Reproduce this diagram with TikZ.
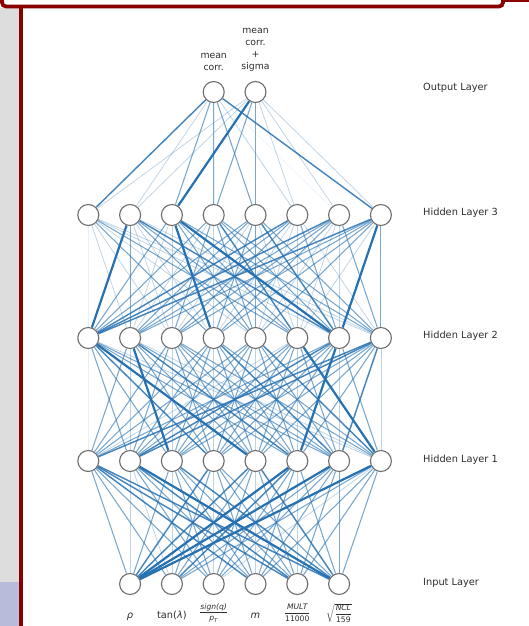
\documentclass[tikz,border=0pt]{standalone}
\usepackage{fontspec}
\setmainfont{DejaVu Sans}
\usepackage{amsmath}
\usetikzlibrary{backgrounds}
\definecolor{nnblue}{RGB}{38,113,178}
\definecolor{framered}{RGB}{136,0,0}
\definecolor{sidegray}{RGB}{221,221,221}
\definecolor{sideblue}{RGB}{183,188,218}
\definecolor{ringgray}{RGB}{110,110,110}
\definecolor{labtext}{RGB}{45,45,45}

\begin{document}
\begin{tikzpicture}[x=1pt,y=-1pt,
  neuron/.style={circle, draw=ringgray, line width=1.1pt, fill=white,
                 minimum size=21pt, inner sep=0pt},
  layerlab/.style={anchor=west, font=\fontsize{9.8}{12}\selectfont, text=labtext, inner sep=0pt},
  outlab/.style={align=center, font=\fontsize{9.3}{12}\selectfont, text=labtext, inner sep=0pt},
  inlab/.style={anchor=base, font=\fontsize{9.8}{12}\selectfont, text=labtext, inner sep=0pt},
  fraclab/.style={font=\fontsize{7.6}{8.5}\selectfont, text=labtext, inner sep=0pt},
  w0/.style={draw=nnblue, draw opacity=0.10, line width=0.5pt},
  w1/.style={draw=nnblue, draw opacity=0.30, line width=0.75pt},
  w2/.style={draw=nnblue, draw opacity=0.62, line width=1.05pt},
  w3/.style={draw=nnblue, draw opacity=0.85, line width=1.45pt},
  w4/.style={draw=nnblue, draw opacity=1.00, line width=2.2pt},
  frameline/.style={draw=framered, line width=3.8pt}
]
\useasboundingbox (0,0) rectangle (529,626);

% ---- page furniture: side strips and frame ----
\fill[sidegray] (0,8) rectangle (19,582);
\fill[sideblue] (0,582) rectangle (19,626);
\draw[frameline, rounded corners=4pt] (2,-6) -- (2,6.5) -- (503,6.5) -- (503,-6);
\draw[frameline] (20.6,6.5) -- (20.6,630);
\draw[draw=framered, line width=2.6pt] (503,1.2) -- (532,1.2);

% ---- neurons ----
\node[neuron] (out-1) at (213.7,92) {};
\node[neuron] (out-2) at (255.5,92) {};
\foreach \i in {1,...,8} {
  \node[neuron] (h3-\i) at ({88.3+41.8*(\i-1)},215) {};
  \node[neuron] (h2-\i) at ({88.3+41.8*(\i-1)},338) {};
  \node[neuron] (h1-\i) at ({88.3+41.8*(\i-1)},461) {};
}
\foreach \i in {1,...,6}
  \node[neuron] (in-\i) at ({130.1+41.8*(\i-1)},584) {};

% ---- layer names ----
\node[layerlab] (name-out) at (423,88) {Output Layer};
\node[layerlab] (name-h3) at (423,213) {Hidden Layer 3};
\node[layerlab] (name-h2) at (423,336) {Hidden Layer 2};
\node[layerlab] (name-h1) at (423,460) {Hidden Layer 1};
\node[layerlab] (name-in) at (423,583) {Input Layer};

% ---- output labels ----
\node[outlab] (lab-out-1) at (213.7,62) {mean\\corr.};
\node[outlab] (lab-out-2) at (255.5,50) {mean\\corr.\\+\\sigma};

% ---- input labels ----
\node[inlab] (lab-in-1) at (130.1,618) {\textit{ρ}};
\node[inlab] (lab-in-2) at (171.9,618) {tan(\textit{λ})};
\node[fraclab] (lab-in-3) at (213.7,613) {$\dfrac{\textit{sign(q)}}{\textit{p}_{\textit{T}}}$};
\node[inlab] (lab-in-4) at (255.5,618) {\textit{m}};
\node[fraclab] (lab-in-5) at (297.3,613) {$\dfrac{\textit{MULT}}{\textup{11000}}$};
\node[fraclab] (lab-in-6) at (339.1,613) {$\sqrt{\dfrac{\textit{NCL}}{\textup{159}}}$};

% ---- weighted connections, behind the neurons ----
\begin{scope}[on background layer]
\fill[white] (19,8) rectangle (529,626);
% output <- hidden 3
\foreach \w [count=\l] in {3,1,2,2,2,1,0,3} \draw[w\w] (out-1) -- (h3-\l);
\foreach \w [count=\l] in {1,1,4,2,2,1,1,1} \draw[w\w] (out-2) -- (h3-\l);
% hidden 3 <- hidden 2
\foreach \w [count=\l] in {0,1,1,2,1,2,1,1} \draw[w\w] (h3-1) -- (h2-\l);
\foreach \w [count=\l] in {4,2,1,1,2,2,3,1} \draw[w\w] (h3-2) -- (h2-\l);
\foreach \w [count=\l] in {2,1,1,4,2,2,4,2} \draw[w\w] (h3-3) -- (h2-\l);
\foreach \w [count=\l] in {2,1,2,1,2,3,2,2} \draw[w\w] (h3-4) -- (h2-\l);
\foreach \w [count=\l] in {2,2,1,2,2,1,3,2} \draw[w\w] (h3-5) -- (h2-\l);
\foreach \w [count=\l] in {3,2,2,1,1,1,2,1} \draw[w\w] (h3-6) -- (h2-\l);
\foreach \w [count=\l] in {3,2,2,2,1,1,1,2} \draw[w\w] (h3-7) -- (h2-\l);
\foreach \w [count=\l] in {3,2,2,2,2,1,4,2} \draw[w\w] (h3-8) -- (h2-\l);
% hidden 2 <- hidden 1
\foreach \w [count=\l] in {0,2,2,3,4,2,2,1} \draw[w\w] (h2-1) -- (h1-\l);
\foreach \w [count=\l] in {2,1,4,2,2,3,2,1} \draw[w\w] (h2-2) -- (h1-\l);
\foreach \w [count=\l] in {2,2,1,2,2,2,2,2} \draw[w\w] (h2-3) -- (h1-\l);
\foreach \w [count=\l] in {2,2,2,1,2,2,3,2} \draw[w\w] (h2-4) -- (h1-\l);
\foreach \w [count=\l] in {2,2,2,2,1,2,2,3} \draw[w\w] (h2-5) -- (h1-\l);
\foreach \w [count=\l] in {1,2,2,2,2,1,2,4} \draw[w\w] (h2-6) -- (h1-\l);
\foreach \w [count=\l] in {2,3,2,2,2,4,1,2} \draw[w\w] (h2-7) -- (h1-\l);
\foreach \w [count=\l] in {3,3,2,2,2,2,3,1} \draw[w\w] (h2-8) -- (h1-\l);
% hidden 1 <- inputs
\foreach \w [count=\l] in {2,2,2,3,3,3} \draw[w\w] (h1-1) -- (in-\l);
\foreach \w [count=\l] in {1,1,2,2,3,4} \draw[w\w] (h1-2) -- (in-\l);
\foreach \w [count=\l] in {2,1,2,2,2,3} \draw[w\w] (h1-3) -- (in-\l);
\foreach \w [count=\l] in {3,2,1,2,2,2} \draw[w\w] (h1-4) -- (in-\l);
\foreach \w [count=\l] in {3,2,2,1,2,3} \draw[w\w] (h1-5) -- (in-\l);
\foreach \w [count=\l] in {4,3,2,2,1,2} \draw[w\w] (h1-6) -- (in-\l);
\foreach \w [count=\l] in {4,2,2,2,2,2} \draw[w\w] (h1-7) -- (in-\l);
\foreach \w [count=\l] in {4,2,1,2,2,2} \draw[w\w] (h1-8) -- (in-\l);
\end{scope}
\end{tikzpicture}
\end{document}
